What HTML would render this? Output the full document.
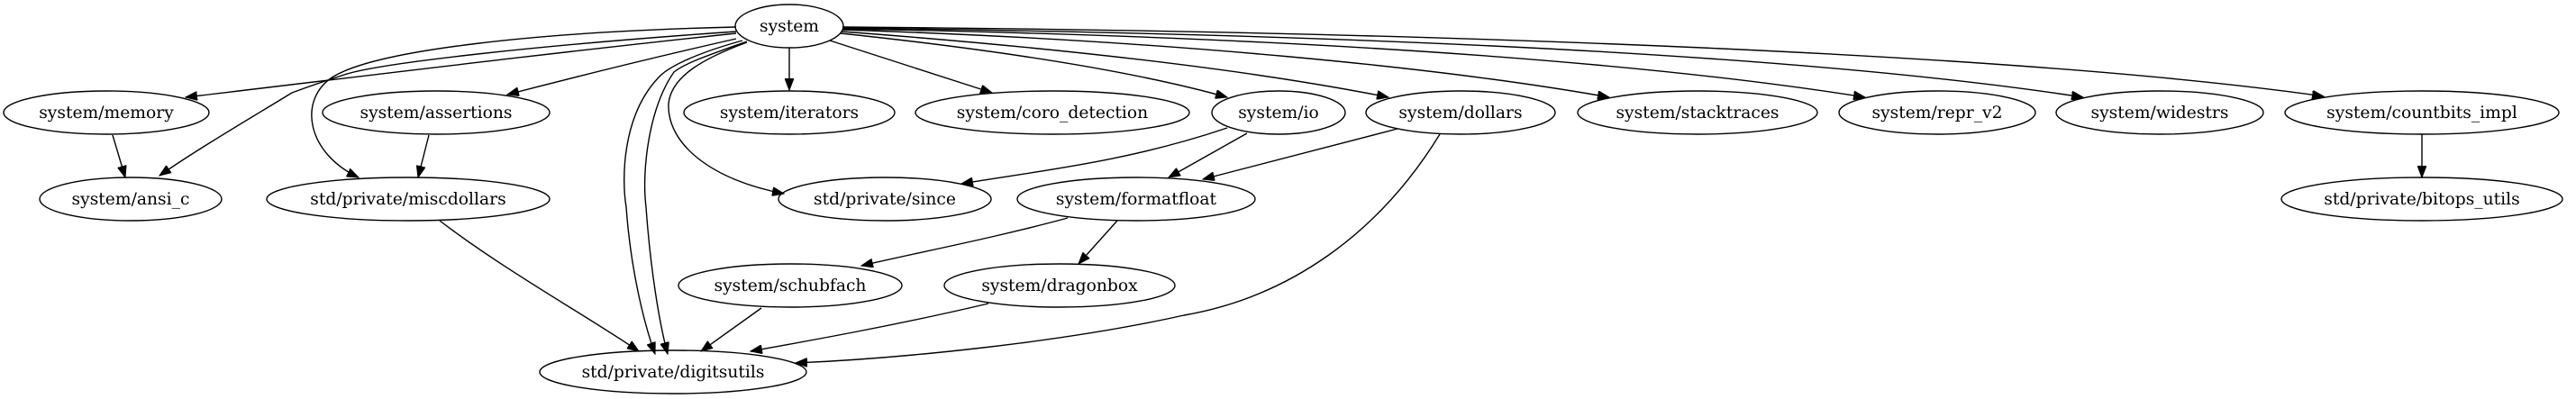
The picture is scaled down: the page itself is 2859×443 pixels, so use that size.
<!DOCTYPE html>
<html><head><meta charset="utf-8"><style>
html,body{margin:0;padding:0;background:#fff;width:2859px;height:443px;overflow:hidden}
svg{display:block}
text{font-family:"DejaVu Serif","Liberation Serif",serif;font-size:18.7px;text-anchor:middle;fill:#000}
ellipse{fill:none;stroke:#000;stroke-width:1.4}
path{fill:none;stroke:#000;stroke-width:1.4}
</style></head><body>
<svg width="2859" height="443" viewBox="0 0 2859 443" xmlns="http://www.w3.org/2000/svg">
<defs><marker id="a" markerWidth="14" markerHeight="10" refX="13" refY="5" orient="auto" markerUnits="userSpaceOnUse"><path d="M0,0 L13,5 L0,10 Z" style="fill:#000;stroke:#000;stroke-width:1"/></marker></defs>
<g marker-end="url(#a)">
<path d="M817,37 C600,60 400,85 206,108"/>
<path d="M817,35 C600,50 420,70 382,83 C360,90 340,97 324,103 C280,130 220,165 177,195"/>
<path d="M817,30 C600,35 420,55 370,85 C330,110 340,170 398,197"/>
<path d="M817,43 C720,65 640,85 563,105"/>
<path d="M824,45 C770,60 740,75 730,87 C690,130 690,200 695,230 C700,300 715,360 727,393"/>
<path d="M829,46 C790,60 760,70 748,80 C720,120 712,190 717,230 C722,300 732,360 741,393"/>
<path d="M829,47 C780,65 745,85 742,115 C740,160 790,200 870,215"/>
<path d="M876,53 L876,100"/>
<path d="M921,45 L1101,103"/>
<path d="M933,37 C1150,60 1280,85 1362,108"/>
<path d="M934,35 C1200,55 1400,80 1541,108"/>
<path d="M935,33 C1300,45 1600,75 1786,108"/>
<path d="M935,32 C1400,40 1800,65 2070,108"/>
<path d="M935,31 C1500,38 2000,60 2312,108"/>
<path d="M935,30 C1600,35 2250,60 2579,107"/>
<path d="M125,150 L139,197"/>
<path d="M476,150 L464,197"/>
<path d="M488,245 C560,300 650,350 709,390"/>
<path d="M845,342 L778,390"/>
<path d="M1097,337 C1000,360 900,378 833,390"/>
<path d="M1598,149 C1530,260 1430,330 1314,350 C1180,380 1000,398 883,403"/>
<path d="M1362,142 C1250,180 1150,190 1067,204"/>
<path d="M1384,148 L1297,197"/>
<path d="M1551,143 L1335,199"/>
<path d="M1185,242 C1100,265 1020,280 956,295"/>
<path d="M1240,245 L1197,293"/>
<path d="M2688,149 L2688,197"/>
</g>
<ellipse cx="876" cy="29" rx="60" ry="24"/><text x="876" y="35">system</text>
<ellipse cx="118" cy="125" rx="114" ry="24"/><text x="118" y="131">system/memory</text>
<ellipse cx="484" cy="125" rx="126" ry="24"/><text x="484" y="131">system/assertions</text>
<ellipse cx="876" cy="125" rx="117" ry="24"/><text x="876" y="131">system/iterators</text>
<ellipse cx="1168" cy="125" rx="152" ry="24"/><text x="1168" y="131">system/coro_detection</text>
<ellipse cx="1419" cy="125" rx="74" ry="24"/><text x="1419" y="131">system/io</text>
<ellipse cx="1621" cy="125" rx="105" ry="24"/><text x="1621" y="131">system/dollars</text>
<ellipse cx="1884" cy="125" rx="133" ry="24"/><text x="1884" y="131">system/stacktraces</text>
<ellipse cx="2150" cy="125" rx="109" ry="24"/><text x="2150" y="131">system/repr_v2</text>
<ellipse cx="2397" cy="125" rx="115" ry="24"/><text x="2397" y="131">system/widestrs</text>
<ellipse cx="2688" cy="125" rx="152" ry="24"/><text x="2688" y="131">system/countbits_impl</text>
<ellipse cx="145" cy="221" rx="101" ry="24"/><text x="145" y="227">system/ansi_c</text>
<ellipse cx="453" cy="221" rx="157" ry="24"/><text x="453" y="227">std/private/miscdollars</text>
<ellipse cx="982" cy="221" rx="118" ry="24"/><text x="982" y="227">std/private/since</text>
<ellipse cx="1261" cy="221" rx="132" ry="24"/><text x="1261" y="227">system/formatfloat</text>
<ellipse cx="2688" cy="221" rx="156" ry="24"/><text x="2688" y="227">std/private/bitops_utils</text>
<ellipse cx="877" cy="317" rx="124" ry="24"/><text x="877" y="323">system/schubfach</text>
<ellipse cx="1176" cy="317" rx="128" ry="24"/><text x="1176" y="323">system/dragonbox</text>
<ellipse cx="747" cy="413" rx="148" ry="24"/><text x="747" y="419">std/private/digitsutils</text>
</svg>
</body></html>
